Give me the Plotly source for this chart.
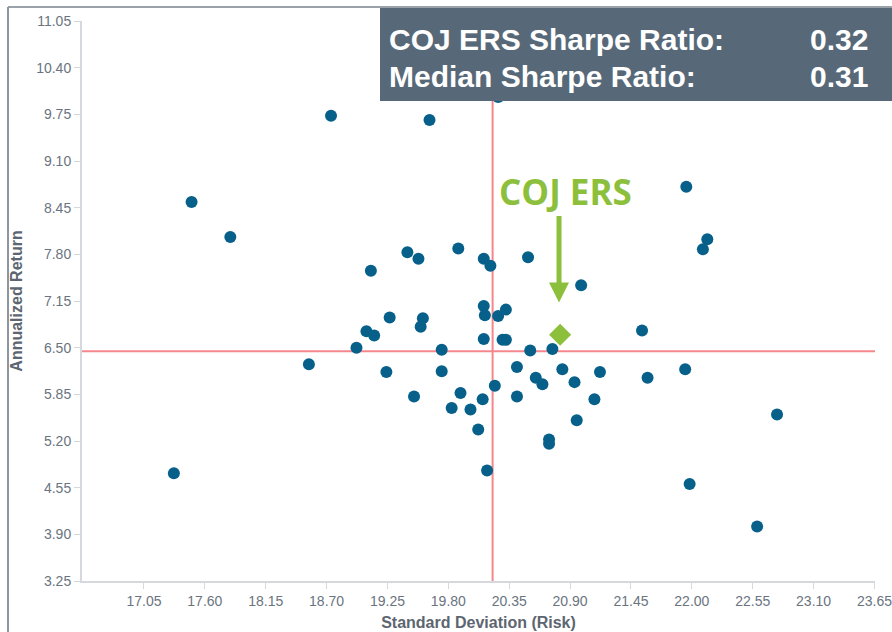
import plotly.graph_objects as go

# ---- data ----
std_dev = [17.48, 17.83, 18.74, 19.63, 20.25, 17.32, 18.54, 18.97, 19.06, 19.13,
           19.27, 19.57, 19.55, 19.24, 19.49, 19.10, 19.43, 19.53, 19.89, 20.12,
           20.18, 20.52, 21.00, 20.12, 20.13, 20.25, 20.32, 20.12, 20.29, 20.32,
           20.54, 20.74, 19.74, 19.74, 19.91, 19.83, 20.00, 20.11, 20.07, 20.22,
           20.42, 20.42, 20.59, 20.65, 20.83, 20.94, 21.17, 21.12, 20.96, 20.71,
           20.71, 20.15, 21.55, 21.60, 21.94, 21.95, 22.14, 22.10, 22.77, 21.98,
           22.59]
ann_return = [8.53, 8.04, 9.73, 9.67, 9.99, 4.75, 6.27, 6.50, 6.73, 6.67,
              6.92, 6.91, 6.79, 6.16, 5.82, 7.57, 7.83, 7.74, 7.88, 7.74,
              7.64, 7.76, 7.37, 7.08, 6.95, 6.94, 7.03, 6.62, 6.61, 6.61,
              6.46, 6.48, 6.47, 6.17, 5.87, 5.66, 5.64, 5.78, 5.36, 5.97,
              6.23, 5.82, 6.08, 5.99, 6.20, 6.02, 6.16, 5.78, 5.49, 5.22,
              5.16, 4.79, 6.74, 6.08, 6.20, 8.74, 8.01, 7.87, 5.57, 4.60,
              4.01]
coj_std = [20.81]
coj_return = [6.68]
median_std = 20.20
median_return = 6.45
coj_label = "COJ ERS"
coj_sharpe_label = "COJ ERS Sharpe Ratio:"
coj_sharpe = "0.32"
median_sharpe_label = "Median Sharpe Ratio:"
median_sharpe = "0.31"
x_ticks = [17.05, 17.60, 18.15, 18.70, 19.25, 19.80, 20.35, 20.90, 21.45,
           22.00, 22.55, 23.10, 23.65]
y_ticks = [3.25, 3.90, 4.55, 5.20, 5.85, 6.50, 7.15, 7.80, 8.45, 9.10,
           9.75, 10.40, 11.05]
x_title = "Standard Deviation (Risk)"
y_title = "Annualized Return"

# ---- layout geometry ----
W, H = 892, 632
L, R, T, B = 82, 17, 21, 51
PW, PH = W - L - R, H - T - B


def px(xp):
    return (xp - L) / PW


def py(yp):
    return (H - B - yp) / PH


DOT = "#07608a"
GREEN = "#8cc03c"
RED = "#f4878d"
BOX = "#576979"
TICK = "#6a7480"
AXIS = "#d5d9de"
FONT = "Liberation Sans, Arial, sans-serif"

fig = go.Figure()
fig.add_trace(go.Scatter(
    x=std_dev, y=ann_return, mode="markers",
    marker=dict(size=12, color=DOT, line=dict(width=0)),
    showlegend=False, hoverinfo="x+y"))
fig.add_trace(go.Scatter(
    x=coj_std, y=coj_return, mode="markers",
    marker=dict(size=17, color=GREEN, symbol="diamond", line=dict(width=0)),
    showlegend=False, hoverinfo="x+y"))

fig.add_vline(x=median_std, line=dict(color=RED, width=2), layer="below")
fig.add_hline(y=median_return, line=dict(color=RED, width=2), layer="below")

# outer frame of the screenshot
fig.add_shape(type="line", xref="paper", yref="paper", x0=px(8), x1=px(W + 5),
              y0=py(7), y1=py(7), line=dict(color="#9aa1a8", width=2))
fig.add_shape(type="line", xref="paper", yref="paper", x0=px(8), x1=px(8),
              y0=py(7), y1=py(H + 5), line=dict(color="#8e959c", width=2))

# Sharpe ratio box
fig.add_shape(type="rect", xref="paper", yref="paper", x0=px(380), x1=px(W + 5),
              y0=py(101), y1=py(8), fillcolor=BOX, line=dict(width=0), layer="above")
box_font = dict(family=FONT, size=30, color="white")
for label, value, yc in [(coj_sharpe_label, coj_sharpe, 39),
                          (median_sharpe_label, median_sharpe, 76)]:
    fig.add_annotation(xref="paper", yref="paper", x=px(387), y=py(yc),
                       text="<b>%s</b>" % label, showarrow=False,
                       xanchor="left", yanchor="middle", font=box_font)
    fig.add_annotation(xref="paper", yref="paper", x=px(870), y=py(yc),
                       text="<b>%s</b>" % value, showarrow=False,
                       xanchor="right", yanchor="middle", font=box_font)

# COJ ERS label and arrow
fig.add_annotation(xref="paper", yref="paper", x=px(565), y=py(191),
                   text="<b>%s</b>" % coj_label, showarrow=False,
                   xanchor="center", yanchor="middle",
                   font=dict(family="Open Sans, sans-serif", size=35, color=GREEN))
fig.add_annotation(x=coj_std[0] - 0.01, y=coj_return[0] + 0.45, text="",
                   showarrow=True, arrowhead=2, arrowsize=0.8, arrowwidth=5,
                   arrowcolor=GREEN, ax=0, ay=-88, standoff=0)

fig.update_xaxes(
    range=[16.49, 23.655], tickvals=x_ticks,
    ticktext=["%.2f" % v for v in x_ticks], ticklabeloverflow="allow",
    showgrid=False, zeroline=False, showline=True, linecolor=AXIS, linewidth=2,
    ticks="outside", ticklen=6, tickcolor=AXIS, tickwidth=1,
    tickfont=dict(family=FONT, size=14, color=TICK),
    title=dict(text="<b>%s</b>" % x_title, standoff=9,
               font=dict(family=FONT, size=16, color="#5d6670")))
fig.update_yaxes(
    range=[3.25, 11.05], tickvals=y_ticks,
    ticktext=["%.2f" % v for v in y_ticks], ticklabeloverflow="allow",
    showgrid=False, zeroline=False, showline=True, linecolor=AXIS, linewidth=2,
    ticks="outside", ticklen=6, tickcolor=AXIS, tickwidth=1,
    tickfont=dict(family=FONT, size=14, color=TICK),
    title=dict(text="<b>%s</b>" % y_title, standoff=10,
               font=dict(family=FONT, size=16, color="#5d6670")))

fig.update_layout(
    width=W, height=H, autosize=False,
    margin=dict(l=L, r=R, t=T, b=B, autoexpand=False),
    paper_bgcolor="white", plot_bgcolor="white",
    showlegend=False)

fig.write_html("out.html", config={"displayModeBar": False},
               post_script="document.body.style.margin='0px';"
                           "document.body.style.overflow='hidden';")
